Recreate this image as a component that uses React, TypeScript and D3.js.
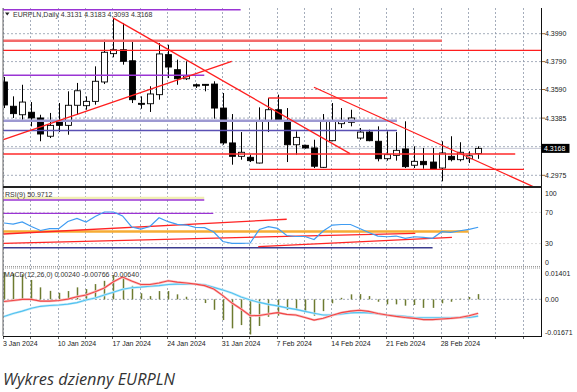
import React from "react";
import * as d3 from "d3";

// ---- chart data (EURPLN daily, MetaTrader style) ----
const dateLabels = ["3 Jan 2024", "10 Jan 2024", "17 Jan 2024", "24 Jan 2024", "31 Jan 2024", "7 Feb 2024", "14 Feb 2024", "21 Feb 2024", "28 Feb 2024"];
const barsPerLabel = 6;

const opens = [4.3644, 4.3470, 4.3409, 4.3427, 4.3386, 4.3255, 4.3362, 4.3333, 4.3477, 4.3474, 4.3505, 4.3644, 4.3847, 4.3875, 4.3796, 4.3491, 4.3488, 4.3553, 4.3840, 4.3732, 4.3667, 4.3624, 4.3627, 4.3629, 4.3457, 4.3207, 4.3111, 4.3104, 4.3063, 4.3362, 4.3445, 4.3362, 4.3194, 4.3190, 4.3171, 4.3032, 4.3223, 4.3345, 4.3355, 4.3242, 4.3285, 4.3219, 4.3094, 4.3118, 4.3164, 4.3047, 4.3075, 4.3070, 4.3027, 4.3111, 4.3087, 4.3094, 4.3131];
const highs = [4.3680, 4.3541, 4.3624, 4.3500, 4.3409, 4.3422, 4.3493, 4.3577, 4.3637, 4.3541, 4.3756, 4.3947, 4.4103, 4.4067, 4.3936, 4.3541, 4.3613, 4.3923, 4.3911, 4.3804, 4.3792, 4.3633, 4.3629, 4.3649, 4.3565, 4.3414, 4.3285, 4.3123, 4.3462, 4.3529, 4.3553, 4.3457, 4.3290, 4.3194, 4.3230, 4.3414, 4.3493, 4.3457, 4.3445, 4.3314, 4.3302, 4.3326, 4.3290, 4.3285, 4.3362, 4.3183, 4.3171, 4.3171, 4.3219, 4.3255, 4.3212, 4.3147, 4.3183];
const lows = [4.3457, 4.3386, 4.3374, 4.3326, 4.3219, 4.3242, 4.3285, 4.3266, 4.3409, 4.3445, 4.3481, 4.3629, 4.3821, 4.3768, 4.3493, 4.3452, 4.3429, 4.3517, 4.3672, 4.3624, 4.3658, 4.3601, 4.3577, 4.3381, 4.3194, 4.3051, 4.3087, 4.3070, 4.3060, 4.3285, 4.3357, 4.3070, 4.3123, 4.3166, 4.3027, 4.3027, 4.3219, 4.3314, 4.3326, 4.3230, 4.3219, 4.3075, 4.3080, 4.3080, 4.3027, 4.3027, 4.3022, 4.3015, 4.2932, 4.3075, 4.3075, 4.3063, 4.3093];
const closes = [4.3479, 4.3417, 4.3500, 4.3386, 4.3271, 4.3333, 4.3333, 4.3477, 4.3581, 4.3505, 4.3649, 4.3857, 4.3875, 4.3792, 4.3517, 4.3486, 4.3558, 4.3845, 4.3751, 4.3667, 4.3687, 4.3615, 4.3622, 4.3457, 4.3207, 4.3111, 4.3140, 4.3080, 4.3362, 4.3445, 4.3369, 4.3194, 4.3247, 4.3171, 4.3040, 4.3362, 4.3366, 4.3362, 4.3386, 4.3285, 4.3223, 4.3094, 4.3123, 4.3154, 4.3037, 4.3075, 4.3051, 4.3020, 4.3135, 4.3087, 4.3140, 4.3115, 4.3168];
const priceTicks = [4.3990, 4.3790, 4.3590, 4.3385, 4.3180, 4.2975];
const priceTickLabels = ["4.3990", "4.3790", "4.3590", "4.3385", "4.3180", "4.2975"];

const rsiValues = [56.4, 55.1, 57.7, 51.9, 46.8, 49.1, 49.1, 58.3, 62.4, 57.7, 64.7, 70.5, 70.5, 65.4, 51.3, 48.7, 51.9, 63.2, 58.1, 54.7, 53.8, 50.9, 50.4, 44.9, 32.7, 30.4, 30.4, 30.8, 48.1, 51.7, 49.6, 40.4, 39.1, 39.1, 35.3, 46.2, 53.8, 54.5, 54.5, 49.4, 44.2, 39.7, 38.8, 39.7, 36.8, 38.8, 38.1, 36.8, 45.3, 44.5, 46.5, 48.3, 50.97];
const rsiTicks = [100, 70, 30, 0];

const macdHist = [0.0125, 0.0119, 0.0115, 0.0089, 0.0055, 0.0039, 0.0030, 0.0038, 0.0055, 0.0047, 0.0070, 0.0085, 0.0111, 0.0104, 0.0062, 0.0028, 0.0015, 0.0038, 0.0038, 0.0023, 0.0012, 0.0002, -0.0017, -0.0048, -0.0095, -0.0133, -0.0118, -0.0161, -0.0122, -0.0080, -0.0075, -0.0049, -0.0049, -0.0057, -0.0075, -0.0054, -0.0018, 0.0007, 0.0023, 0.0024, 0.0015, -0.0011, -0.0023, -0.0023, -0.0029, -0.0026, -0.0039, -0.0039, -0.0018, -0.0011, 0.0003, 0.0011, 0.0024];
const macdRed = [-0.0010, -0.0005, 0.0000, 0.0000, -0.0008, -0.0008, -0.0005, 0.0001, 0.0012, 0.0020, 0.0035, 0.0052, 0.0081, 0.0102, 0.0084, 0.0068, 0.0068, 0.0075, 0.0085, 0.0079, 0.0075, 0.0070, 0.0063, 0.0047, 0.0017, -0.0017, -0.0044, -0.0075, -0.0074, -0.0067, -0.0061, -0.0069, -0.0072, -0.0083, -0.0095, -0.0087, -0.0073, -0.0061, -0.0054, -0.0050, -0.0055, -0.0065, -0.0072, -0.0078, -0.0083, -0.0087, -0.0093, -0.0093, -0.0090, -0.0087, -0.0083, -0.0075, -0.0064];
const macdBlue = [-0.0079, -0.0065, -0.0054, -0.0041, -0.0032, -0.0028, -0.0026, -0.0022, -0.0015, -0.0003, 0.0006, 0.0020, 0.0033, 0.0046, 0.0053, 0.0056, 0.0060, 0.0063, 0.0068, 0.0070, 0.0070, 0.0070, 0.0067, 0.0055, 0.0043, 0.0029, 0.0011, -0.0003, -0.0014, -0.0023, -0.0030, -0.0039, -0.0046, -0.0055, -0.0064, -0.0072, -0.0072, -0.0067, -0.0062, -0.0060, -0.0062, -0.0066, -0.0072, -0.0075, -0.0078, -0.0083, -0.0084, -0.0084, -0.0084, -0.0084, -0.0083, -0.0083, -0.0077];
const macdTicks = [0.01401, 0, -0.01671];
const macdTickLabels = ["0.01401", "0.00", "-0.01671"];

// drawn objects: [barFrom, valueFrom, barTo, valueTo]
const priceObjects: Record<string, number[]> = {
  topPurple: [-0.2, 4.4162, 25.95, 4.4162],
  salmonHigh: [-0.2, 4.394, 48.03, 4.394],
  redFull: [-0.2, 4.3871, 59, 4.3871],
  lavender: [-0.2, 4.3366, 43.09, 4.3366],
  slate: [-0.2, 4.3296, 43.09, 4.3296],
  purpleMid: [-0.2, 4.3692, 21.96, 4.3692],
  downTrend1: [11.95, 4.4103, 37.94, 4.313],
  upTrend: [-0.07, 4.323, 24.97, 4.3792],
  downTrend2: [33.99, 4.3606, 58.06, 4.2893],
  boxTop: [28.98, 4.3529, 42.03, 4.3529],
  boxBottom: [26.97, 4.3017, 57.02, 4.3017],
  redLow: [-0.2, 4.3128, 56.06, 4.3128],
};
const rsiObjects: Record<string, number[]> = {
  yellowBand: [-0.2, 88.5, 21.96, 88.5],
  purpleHigh: [-0.2, 85.9, 21.96, 85.9],
  purpleMid: [-0.2, 68.8, 22.95, 68.8],
  orange: [-0.2, 45.5, 50.95, 45.5],
  navy: [-0.2, 24.7, 47.0, 24.7],
  redA: [-0.08, 42.3, 31.0, 61.2],
  redB: [-0.08, 30.4, 45.1, 43.2],
  redC: [27.88, 26.0, 49.12, 38.1],
};

const objectStyles: Record<string, { stroke: string; width: number }> = {
  topPurple: { stroke: "#9a34d4", width: 1.6 },
  salmonHigh: { stroke: "#f36b6b", width: 2.6 },
  redFull: { stroke: "#ff1e1e", width: 1.3 },
  lavender: { stroke: "#9d99d2", width: 2.6 },
  slate: { stroke: "#5a50b4", width: 1.3 },
  purpleMid: { stroke: "#9a34d4", width: 1.5 },
  downTrend1: { stroke: "#ff1e1e", width: 1.3 },
  upTrend: { stroke: "#ff1e1e", width: 1.3 },
  downTrend2: { stroke: "#ff1e1e", width: 1.3 },
  boxTop: { stroke: "#ff2a2a", width: 1.6 },
  boxBottom: { stroke: "#ff1e1e", width: 1.3 },
  redLow: { stroke: "#ff2a2a", width: 1.6 },
  yellowBand: { stroke: "#f1eeb4", width: 2.6 },
  purpleHigh: { stroke: "#9a34d4", width: 1.3 },
  purpleMid2: { stroke: "#9a34d4", width: 1.3 },
  orange: { stroke: "#f6ac35", width: 2.4 },
  navy: { stroke: "#3c3c8e", width: 1.5 },
  redA: { stroke: "#ff2424", width: 1.3 },
  redB: { stroke: "#ff2424", width: 1.3 },
  redC: { stroke: "#ff2424", width: 1.3 },
};

const FONT = "'Liberation Sans', Arial, sans-serif";

export default function App() {
  const W = 577, H = 392;
  const left = 3, right = 541;
  const mainTop = 8, mainBottom = 186;
  const rsiTop = 188, rsiBottom = 266;
  const macdTop = 268, macdBottom = 336;

  const x = d3.scaleLinear().domain([0, 52]).range([4, 478.2]);
  const yPrice = d3.scaleLinear().domain([4.2975, 4.399]).range([175.3, 33.7]);
  const yRsi = d3.scaleLinear().domain([0, 100]).range([267, 189]);
  const yMacd = d3.scaleLinear().domain([-0.01671, 0.01401]).range([335.8, 268.8]);

  const gridBars = d3.range(0, 58, 3);
  const bars = d3.range(opens.length);

  const rsiLine = d3.line<number>().x((i) => x(i)).y((i) => yRsi(rsiValues[i]));
  const redLine = d3.line<number>().x((i) => x(i)).y((i) => yMacd(macdRed[i]));
  const blueLine = d3.line<number>().x((i) => x(i)).y((i) => yMacd(macdBlue[i]));

  const last = closes[closes.length - 1];
  const gridColor = "#8e98aa";

  const objLine = (key: string, seg: number[], yS: (v: number) => number, styleKey?: string) => {
    const st = objectStyles[styleKey || key];
    return (
      <line key={key} x1={x(seg[0])} y1={yS(seg[1])} x2={x(seg[2])} y2={yS(seg[3])}
        stroke={st.stroke} strokeWidth={st.width} />
    );
  };

  return (
    <svg width={W} height={H} style={{ position: "absolute", left: 0, top: 0, background: "#fff" }}
      fontFamily={FONT}>
      <defs>
        <clipPath id="clipMain"><rect x={left} y={mainTop} width={right - left} height={mainBottom - mainTop} /></clipPath>
        <clipPath id="clipRsi"><rect x={left} y={rsiTop} width={right - left} height={rsiBottom - rsiTop} /></clipPath>
        <clipPath id="clipMacd"><rect x={left} y={macdTop} width={right - left} height={macdBottom - macdTop} /></clipPath>
      </defs>
      <rect x={0} y={0} width={W} height={H} fill="#fff" />

      {/* vertical grid */}
      {gridBars.map((b) => (
        <g key={"vg" + b}>
          {[[mainTop, mainBottom], [rsiTop, rsiBottom], [macdTop, macdBottom]].map(([t, bt], k) => (
            <line key={k} x1={Math.round(x(b)) - 0.5} x2={Math.round(x(b)) - 0.5} y1={t} y2={bt}
              stroke={gridColor} strokeWidth={0.8} strokeDasharray="2,2" />
          ))}
          <line x1={Math.round(x(b)) - 0.5} x2={Math.round(x(b)) - 0.5} y1={macdBottom} y2={macdBottom + 3} stroke="#333" strokeWidth={0.8} />
        </g>
      ))}

      {/* horizontal grid: price */}
      {priceTicks.map((p) => (
        <line key={"hg" + p} x1={left} x2={right} y1={yPrice(p)} y2={yPrice(p)} stroke={gridColor} strokeWidth={0.8} strokeDasharray="2,2" />
      ))}
      {[70, 30].map((v) => (
        <line key={"rg" + v} x1={left} x2={right} y1={yRsi(v)} y2={yRsi(v)} stroke="#cfcfcf" strokeWidth={0.8} strokeDasharray="2,2" />
      ))}
      <line x1={left} x2={right} y1={yMacd(0)} y2={yMacd(0)} stroke={gridColor} strokeWidth={0.8} strokeDasharray="2,2" />

      {/* candles */}
      <g clipPath="url(#clipMain)">
        <line x1={left} x2={right} y1={yPrice(last)} y2={yPrice(last)} stroke="#c6c9d6" strokeWidth={1} />
        {bars.map((i) => {
          const o = opens[i], c = closes[i];
          const up = c >= o;
          const cx = Math.round(x(i)) + 0.5;
          const top = yPrice(Math.max(o, c));
          const h = Math.max(1, Math.abs(yPrice(o) - yPrice(c)));
          return (
            <g key={"c" + i}>
              <line x1={cx} x2={cx} y1={yPrice(highs[i])} y2={yPrice(lows[i])} stroke="#000" strokeWidth={1} />
              <rect x={cx - 3} y={top} width={6} height={h} fill={up ? "#fff" : "#000"} stroke="#000" strokeWidth={0.9} />
            </g>
          );
        })}
        {Object.entries(priceObjects).map(([k, seg]) => objLine(k, seg, yPrice))}
      </g>

      {/* RSI */}
      <g clipPath="url(#clipRsi)">
        {Object.entries(rsiObjects).map(([k, seg]) => objLine("rsi" + k, seg, yRsi, k === "purpleMid" ? "purpleMid2" : k))}
        <path d={rsiLine(bars) || ""} fill="none" stroke="#3f9cf2" strokeWidth={1.2} />
      </g>

      {/* MACD */}
      <g clipPath="url(#clipMacd)">
        {bars.map((i) => (
          <line key={"h" + i} x1={Math.round(x(i)) + 0.5} x2={Math.round(x(i)) + 0.5} y1={yMacd(0)} y2={yMacd(macdHist[i])}
            stroke="#6d7b30" strokeWidth={1.5} />
        ))}
        <path d={blueLine(bars) || ""} fill="none" stroke="#c6ebf9" strokeWidth={2.4} />
        <path d={blueLine(bars) || ""} fill="none" stroke="#52c2f0" strokeWidth={1.1} />
        <path d={redLine(bars) || ""} fill="none" stroke="#f9c0c0" strokeWidth={2.4} />
        <path d={redLine(bars) || ""} fill="none" stroke="#f04646" strokeWidth={1.1} />
      </g>

      {/* frame */}
      <line x1={left} x2={left} y1={mainTop} y2={macdBottom} stroke="#666" strokeWidth={1} />
      <line x1={right + 0.5} x2={right + 0.5} y1={mainTop} y2={macdBottom} stroke="#111" strokeWidth={1} />
      <rect x={left} y={mainBottom} width={right - left + 1} height={2} fill="#222" />
      <line x1={left} x2={right} y1={rsiBottom + 0.5} y2={rsiBottom + 0.5} stroke="#9a9a9a" strokeWidth={1} strokeDasharray="1,1" />
      <line x1={left} x2={right} y1={rsiBottom + 2} y2={rsiBottom + 2} stroke="#9a9a9a" strokeWidth={1} strokeDasharray="1,1" />
      <line x1={left} x2={right + 1} y1={macdBottom + 0.5} y2={macdBottom + 0.5} stroke="#111" strokeWidth={1} />

      {/* right axis labels */}
      <g fontSize={7} fill="#222">
        {priceTicks.map((p, k) => (
          <g key={"pl" + p}>
            <line x1={right + 1} x2={right + 4} y1={yPrice(p)} y2={yPrice(p)} stroke="#9a6a3a" strokeWidth={1} />
            {Math.abs(yPrice(p) - yPrice(last)) > 8 && (
              <text x={545} y={yPrice(p)} dy="0.35em">{priceTickLabels[k]}</text>
            )}
          </g>
        ))}
        <rect x={right + 0.5} y={yPrice(last) - 4.5} width={28} height={9} fill="#000" />
        <text x={544} y={yPrice(last)} dy="0.35em" fill="#fff">{last.toFixed(4)}</text>
        {rsiTicks.map((v) => (
          <text key={"rl" + v} x={545} y={Math.min(262.7, Math.max(193.3, yRsi(v)))} dy="0.35em">{v}</text>
        ))}
        {macdTicks.map((v, k) => (
          <text key={"ml" + v} x={545} y={Math.min(332.7, Math.max(274, yMacd(v)))} dy="0.35em">{macdTickLabels[k]}</text>
        ))}
      </g>

      {/* date labels */}
      <g fontSize={7} fill="#222">
        {dateLabels.map((d, k) => (
          <text key={d} x={x(k * barsPerLabel) - 1} y={344} dy="0.35em">{d}</text>
        ))}
      </g>

      {/* panel captions */}
      <g fontSize={7} fill="#333">
        <path d="M5,12.5 L9.5,12.5 L7.25,15.5 Z" fill="#222" />
        <text x={13} y={14.3} dy="0.35em">EURPLN,Daily  4.3131 4.3183 4.3093 4.3168</text>
        <text x={5} y={194.3} dy="0.35em">RSI(9) 50.9712</text>
        <text x={4} y={274.3} dy="0.35em">MACD(12,26,0) 0.00240 -0.00766 -0.00640</text>
      </g>

      <text x={3} y={384.5} fontFamily="'Open Sans', sans-serif" fontStyle="italic" fontSize={17} fill="#333"
        textLength={172} lengthAdjust="spacingAndGlyphs">Wykres dzienny EURPLN</text>
    </svg>
  );
}
